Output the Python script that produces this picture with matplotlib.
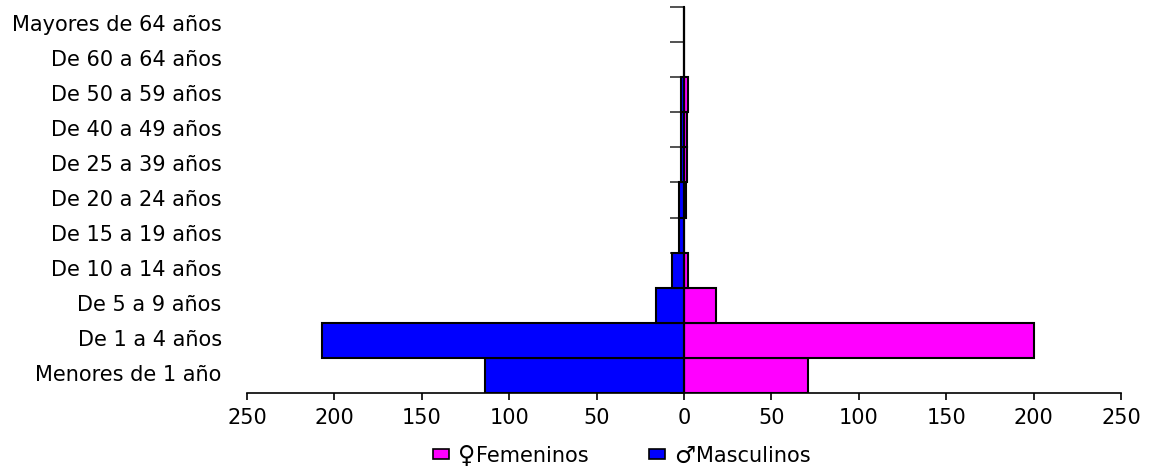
import matplotlib
matplotlib.use("Agg")
import matplotlib.pyplot as plt
import numpy as np

categorias = ['Menores de 1 año', 'De 1 a 4 años', 'De 5 a 9 años', 'De 10 a 14 años',
              'De 15 a 19 años', 'De 20 a 24 años', 'De 25 a 39 años', 'De 40 a 49 años',
              'De 50 a 59 años', 'De 60 a 64 años', 'Mayores de 64 años']
femeninos = [71, 200, 18.5, 2.5, 0, 1, 1.5, 1.5, 2.5, 0, 0]
masculinos = [114, 207, 16, 7, 3, 3, 1.5, 1.5, 1.5, 0, 0]
ticks_x = [-250, -200, -150, -100, -50, 0, 50, 100, 150, 200, 250]

plt.rcParams['font.family'] = ['DejaVu Sans']
tam = 15

fig = plt.figure(figsize=(11.49, 4.70), dpi=100)
ax = fig.add_axes([247/1149, 1-393/470, 874/1149, 386/470])
ax.set_axisbelow(True)

y = np.arange(len(categorias))
ax.barh(y, femeninos, height=1, color='#ff00ff', edgecolor='black', linewidth=1.5)
ax.barh(y, [-m for m in masculinos], height=1, color='#0000ff', edgecolor='black', linewidth=1.5)

ax.set_xlim(-250, 250)
ax.set_ylim(-0.5, 10.5)
ax.set_xticks(ticks_x)
ax.set_xticklabels([str(abs(t)) for t in ticks_x], fontsize=tam)
ax.tick_params(axis='x', length=5, width=1.2, pad=6)

ax.spines['top'].set_visible(False)
ax.spines['right'].set_visible(False)
ax.spines['left'].set_position(('data', 0))
ax.spines['left'].set_linewidth(1.5)
ax.spines['bottom'].set_linewidth(1.2)
ax.set_yticks(np.arange(len(categorias) + 1) - 0.5)
ax.set_yticklabels([])
ax.tick_params(axis='y', length=10, width=1.2, color='#333333')

for yy, c in zip(y, categorias):
    ax.text(-0.029, yy, c, transform=ax.get_yaxis_transform(), ha='right', va='center', fontsize=tam)

# leyenda a mano, los simbolos van pisando el texto como en el original
fig.patches.append(plt.Rectangle((433/1149, 1-459/470), 16/1149, 10/470, transform=fig.transFigure,
                                 facecolor='#ff00ff', edgecolor='black', linewidth=1.2))
fig.patches.append(plt.Rectangle((649/1149, 1-459/470), 16/1149, 10/470, transform=fig.transFigure,
                                 facecolor='#0000ff', edgecolor='black', linewidth=1.2))
fig.text(458/1149, 1-456/470, '♀', fontweight='bold', fontsize=17, ha='left', va='center')
fig.text(476/1149, 1-456/470, 'Femeninos', fontsize=tam, ha='left', va='center')
fig.text(674/1149, 1-456/470, '♂', fontweight='bold', fontsize=17, ha='left', va='center')
fig.text(696/1149, 1-456/470, 'Masculinos', fontsize=tam, ha='left', va='center')

fig.savefig('out.png', dpi=100)
